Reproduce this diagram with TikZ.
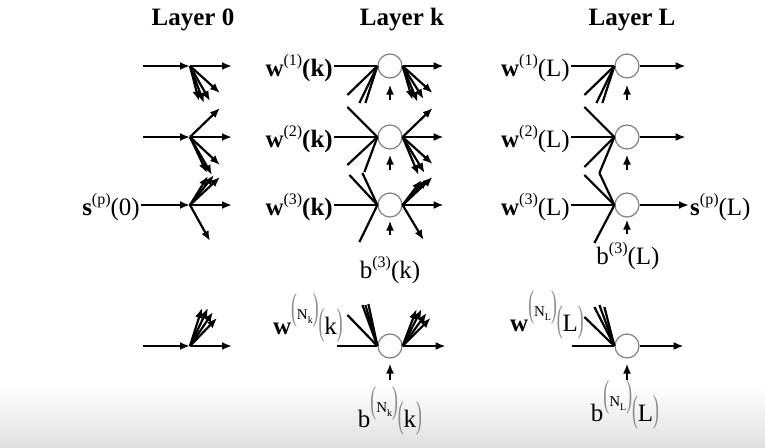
\documentclass[tikz,border=0pt]{standalone}
\usepackage{fontspec}
\setmainfont{Liberation Serif}
\usetikzlibrary{arrows.meta}
\definecolor{parcol}{HTML}{8C8C8C}
\definecolor{ringcol}{HTML}{808080}
\newcommand\spx[1]{\raisebox{0.42em}{\fontsize{16}{16}\selectfont #1}}
\newcommand\tallp[1]{\textcolor{parcol}{\scalebox{0.7}[1.5]{\mdseries #1}}}
\newcommand\supN[1]{\raisebox{0.62em}{\tallp{(}{\fontsize{15}{15}\selectfont\mdseries N\raisebox{-0.3em}{\fontsize{10}{10}\selectfont #1}}\tallp{)}}}
\tikzset{
  wire/.style={line width=2.2pt, black},
  arr/.style={wire, -{Latex[length=10pt,width=8pt]}},
  neuron/.style={circle, draw=ringcol, line width=1.2pt, fill=white, minimum size=24pt, inner sep=0pt},
  lab/.style={font=\fontsize{25}{30}\selectfont, inner sep=1pt},
  head/.style={font=\fontsize{25}{30}\selectfont\bfseries, inner sep=1pt},
}
\begin{document}
\begin{tikzpicture}[x=1pt,y=-1pt]
\useasboundingbox (0,0) rectangle (765,447);
\shade[top color=white, bottom color=black!12] (0,385) rectangle (765,447);

% headings
\node[head] (h0) at (193,20) {Layer 0};
\node[head] (h1) at (402,20) {Layer k};
\node[head] (h2) at (632,20) {Layer L};

% ---------------- Layer 0 ----------------
\coordinate (z1) at (190,66);
\coordinate (z2) at (190,137);
\coordinate (z3) at (190,205);
\coordinate (z4) at (190,346);
\coordinate (a1) at (143,66);
\coordinate (a2) at (143,137);
\coordinate (a4) at (143,346);
\node[lab, anchor=east] (s0) at (141,207) {\textbf{s}\spx{(p)}(0)};

\draw[arr] (a1) -- (z1);
\draw[arr] (a2) -- (z2);
\draw[arr] (s0.east |- z3) -- (z3);
\draw[arr] (a4) -- (z4);

\draw[arr] (z1) -- ++(42,0);
\draw[arr] (z1) -- ++(30,27);
\draw[arr] (z1) -- ++(20,35);
\draw[arr] (z1) -- ++(14,37);
\draw[arr] (z1) -- ++(9,35);

\draw[arr] (z2) -- ++(42,0);
\draw[arr] (z2) -- ++(30,-29);
\draw[arr] (z2) -- ++(30,28);
\draw[arr] (z2) -- ++(22,38);
\draw[arr] (z2) -- ++(17,36);

\draw[arr] (z3) -- ++(42,0);
\draw[arr] (z3) -- ++(30,-28);
\draw[arr] (z3) -- ++(24,-30);
\draw[arr] (z3) -- ++(18,-29);
\draw[arr] (z3) -- ++(20,36);

\draw[arr] (z4) -- ++(42,0);
\draw[arr] (z4) -- ++(12,-38);
\draw[arr] (z4) -- ++(18,-38);
\draw[arr] (z4) -- ++(23,-34);
\draw[arr] (z4) -- ++(27,-28);

% ---------------- Layer k ----------------
\node[neuron] (k1) at (390,66) {};
\node[neuron] (k2) at (390,137) {};
\node[neuron] (k3) at (390,205) {};
\node[neuron] (k4) at (390,346) {};

\node[lab, anchor=east] (wk1) at (334,68) {\textbf{w}\spx{(1)}\textbf{(k)}};
\node[lab, anchor=east] (wk2) at (334,139) {\textbf{w}\spx{(2)}\textbf{(k)}};
\node[lab, anchor=east] (wk3) at (334,207) {\textbf{w}\spx{(3)}\textbf{(k)}};
\node[lab, anchor=south east] (wk4) at (344,344) {\textbf{w}\supN{k}\tallp{(}k\tallp{)}};
\coordinate (ik4) at (337,346);

\draw[wire] (wk1.east |- k1) -- (k1.west);
\draw[wire] (wk2.east |- k2) -- (k2.west);
\draw[wire] (wk3.east |- k3) -- (k3.west);
\draw[wire] (ik4) -- (k4.west);

% inputs fan
\draw[wire] (k1.west) -- ++(-30,29);
\draw[wire] (k1.west) -- ++(-18,37);
\draw[wire] (k1.west) -- ++(-12,37);
\draw[wire] (k2.west) -- ++(-30,-30);
\draw[wire] (k2.west) -- ++(-30,28);
\draw[wire] (k2.west) -- ++(-13,35);
\draw[wire] (k3.west) -- ++(-28,-30);
\draw[wire] (k3.west) -- ++(-15,-32);
\draw[wire] (k3.west) -- ++(-18,37);
\draw[wire] (k4.west) -- ++(-30,-31);
\draw[wire] (k4.west) -- ++(-15,-41);
\draw[wire] (k4.west) -- ++(-12,-41);
\draw[wire] (k4.west) -- ++(-9,-42);

% outputs
\draw[arr] (k1.east) -- ++(41,0);
\draw[arr] (k1.east) -- ++(30,27);
\draw[arr] (k1.east) -- ++(21,33);
\draw[arr] (k1.east) -- ++(15,36);
\draw[arr] (k1.east) -- ++(10,34);

\draw[arr] (k2.east) -- ++(41,0);
\draw[arr] (k2.east) -- ++(30,-29);
\draw[arr] (k2.east) -- ++(30,27);
\draw[arr] (k2.east) -- ++(22,36);
\draw[arr] (k2.east) -- ++(16,38);

\draw[arr] (k3.east) -- ++(41,0);
\draw[arr] (k3.east) -- ++(30,-28);
\draw[arr] (k3.east) -- ++(25,-26);
\draw[arr] (k3.east) -- ++(19,-25);
\draw[arr] (k3.east) -- ++(21,35);

\draw[arr] (k4.east) -- ++(43,0);
\draw[arr] (k4.east) -- ++(14,-37);
\draw[arr] (k4.east) -- ++(19,-37);
\draw[arr] (k4.east) -- ++(24,-33);
\draw[arr] (k4.east) -- ++(28,-28);

% bias
\draw[arr] (k1.south) ++(0,21) -- ++(0,-15);
\draw[arr] (k2.south) ++(0,20) -- ++(0,-15);
\draw[arr] (k3.south) ++(0,17) -- ++(0,-14);
\draw[arr] (k4.south) ++(0,21) -- ++(0,-16);
\node[lab] (bk3) at (390,270) {b\spx{(3)}(k)};
\node[lab] (bk4) at (390,411) {b\supN{k}\tallp{(}k\tallp{)}};

% ---------------- Layer L ----------------
\node[neuron] (L1) at (627,66) {};
\node[neuron] (L2) at (627,137) {};
\node[neuron] (L3) at (627,205) {};
\node[neuron] (L4) at (627,346) {};

\node[lab, anchor=east] (wL1) at (571,68) {\textbf{w}\spx{(1)}(L)};
\node[lab, anchor=east] (wL2) at (571,139) {\textbf{w}\spx{(2)}(L)};
\node[lab, anchor=east] (wL3) at (571,207) {\textbf{w}\spx{(3)}(L)};
\node[lab, anchor=south east] (wL4) at (585,341) {\textbf{w}\supN{L}\tallp{(}L\tallp{)}};
\coordinate (iL4) at (572,346);

\draw[wire] (wL1.east |- L1) -- (L1.west);
\draw[wire] (wL2.east |- L2) -- (L2.west);
\draw[wire] (wL3.east |- L3) -- (L3.west);
\draw[wire] (iL4) -- (L4.west);

\draw[wire] (L1.west) -- ++(-30,29);
\draw[wire] (L1.west) -- ++(-18,37);
\draw[wire] (L1.west) -- ++(-12,37);
\draw[wire] (L2.west) -- ++(-30,-30);
\draw[wire] (L2.west) -- ++(-30,30);
\draw[wire] (L2.west) -- ++(-15,36);
\draw[wire] (L3.west) -- ++(-30,-30);
\draw[wire] (L3.west) -- ++(-15,-32);
\draw[wire] (L3.west) -- ++(-20,38);
\draw[wire] (L4.west) -- ++(-30,-29);
\draw[wire] (L4.west) -- ++(-20,-39);
\draw[wire] (L4.west) -- ++(-15,-41);
\draw[wire] (L4.west) -- ++(-10,-39);

\node[lab, anchor=west] (sL) at (689,207) {\textbf{s}\spx{(p)}(L)};
\draw[arr] (L1.east) -- ++(46,0);
\draw[arr] (L2.east) -- ++(46,0);
\draw[arr] (L3.east) -- (sL.west |- L3);
\draw[arr] (L4.east) -- ++(44,0);

\draw[arr] (L1.south) ++(0,21) -- ++(0,-15);
\draw[arr] (L2.south) ++(0,20) -- ++(0,-15);
\draw[arr] (L3.south) ++(0,16) -- ++(0,-14);
\draw[arr] (L4.south) ++(0,21) -- ++(0,-16);
\node[lab] (bL3) at (628,256) {b\spx{(3)}(L)};
\node[lab] (bL4) at (625,405) {b\supN{L}\tallp{(}L\tallp{)}};
\end{tikzpicture}
\end{document}
